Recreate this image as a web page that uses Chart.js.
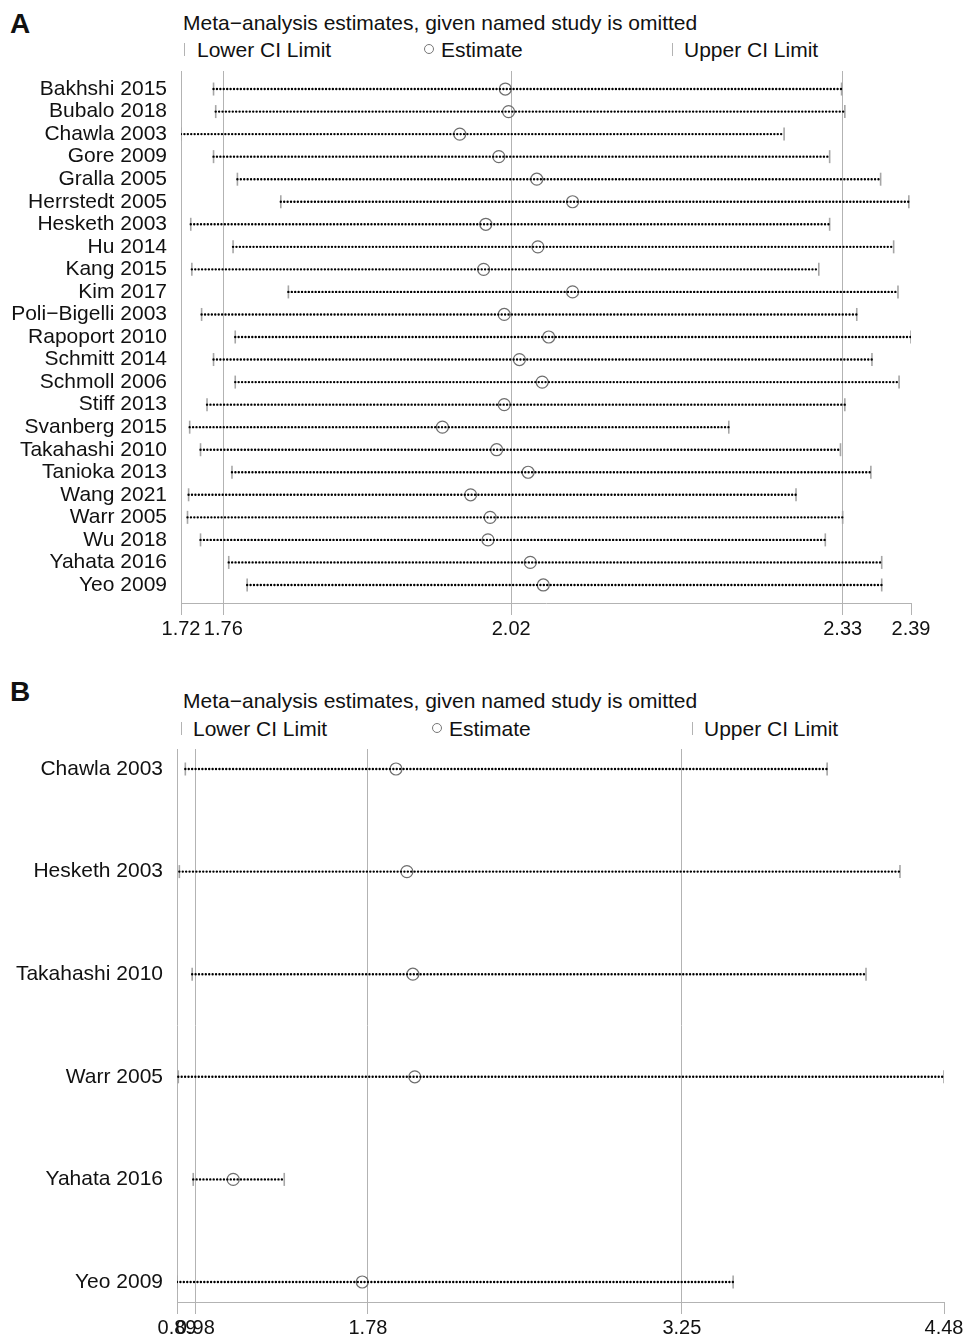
<!DOCTYPE html>
<html>
<head>
<meta charset="utf-8">
<script src="https://cdn.jsdelivr.net/npm/chart.js@4.4.1/dist/chart.umd.min.js"></script>
<style>
  body { margin:0; background:#fff; width:973px; height:1334px; overflow:hidden; position:relative;
         font-family:"Liberation Sans", Arial, Helvetica, sans-serif; color:#111; }
  .abs { position:absolute; white-space:nowrap; line-height:1; }
  .letter { font-weight:bold; font-size:28px; }
  .title, .leg { font-size:21px; }
  .bar { position:absolute; width:1px; height:13px; background:#b3b3b3; }
  .circ { position:absolute; width:8px; height:8px; border:1px solid #777; border-radius:50%; }
  canvas { position:absolute; left:0; }
</style>
</head>
<body>
<!-- panel A header -->
<div class="abs letter" style="left:10px;top:10px">A</div>
<div class="abs title" style="left:183px;top:12px">Meta−analysis estimates, given named study is omitted</div>
<div class="bar" style="left:184px;top:43px"></div>
<div class="abs leg" style="left:197px;top:39px">Lower CI Limit</div>
<div class="circ" style="left:424px;top:44px"></div>
<div class="abs leg" style="left:441px;top:39px">Estimate</div>
<div class="bar" style="left:672px;top:43px"></div>
<div class="abs leg" style="left:684px;top:39px">Upper CI Limit</div>
<canvas id="chartA" width="973" height="650" style="top:0"></canvas>

<!-- panel B header -->
<div class="abs letter" style="left:10px;top:678px">B</div>
<div class="abs title" style="left:183px;top:690px">Meta−analysis estimates, given named study is omitted</div>
<div class="bar" style="left:181px;top:722px"></div>
<div class="abs leg" style="left:193px;top:718px">Lower CI Limit</div>
<div class="circ" style="left:432px;top:723px"></div>
<div class="abs leg" style="left:449px;top:718px">Estimate</div>
<div class="bar" style="left:692px;top:722px"></div>
<div class="abs leg" style="left:704px;top:718px">Upper CI Limit</div>
<canvas id="chartB" width="973" height="674" style="top:660px"></canvas>

<script>
// ---- panel A data ----
const studiesA = ['Bakhshi 2015', 'Bubalo 2018', 'Chawla 2003', 'Gore 2009', 'Gralla 2005',
  'Herrstedt 2005', 'Hesketh 2003', 'Hu 2014', 'Kang 2015', 'Kim 2017', 'Poli−Bigelli 2003',
  'Rapoport 2010', 'Schmitt 2014', 'Schmoll 2006', 'Stiff 2013', 'Svanberg 2015',
  'Takahashi 2010', 'Tanioka 2013', 'Wang 2021', 'Warr 2005', 'Wu 2018', 'Yahata 2016', 'Yeo 2009'];
const lowerA = [1.750, 1.752, 1.720, 1.750, 1.772, 1.812, 1.729, 1.768, 1.730, 1.819, 1.739,
  1.770, 1.750, 1.770, 1.744, 1.728, 1.738, 1.767, 1.727, 1.726, 1.738, 1.764, 1.781];
const estA = [2.019, 2.022, 1.977, 2.013, 2.048, 2.081, 2.001, 2.049, 1.999, 2.081, 2.018,
  2.059, 2.032, 2.053, 2.018, 1.961, 2.011, 2.040, 1.987, 2.005, 2.003, 2.042, 2.054];
const upperA = [2.329, 2.332, 2.276, 2.318, 2.365, 2.391, 2.318, 2.377, 2.308, 2.381, 2.343,
  2.393, 2.357, 2.382, 2.332, 2.225, 2.328, 2.356, 2.287, 2.330, 2.314, 2.366, 2.366];
const ticksA = [1.72, 1.759, 2.0244, 2.330, 2.393];

// ---- panel B data ----
const studiesB = ['Chawla 2003', 'Hesketh 2003', 'Takahashi 2010', 'Warr 2005', 'Yahata 2016', 'Yeo 2009'];
const lowerB = [0.929, 0.901, 0.961, 0.896, 0.966, 0.890];
const estB = [1.915, 1.966, 1.994, 2.003, 1.153, 1.757];
const upperB = [3.933, 4.274, 4.115, 4.480, 1.392, 3.493];
const ticksB = [0.89, 0.9756, 1.7838, 3.2531, 4.48];

const FONT = '"Liberation Sans", Arial, Helvetica, sans-serif';
const GREY = '#b3b3b3';

function forestPlot(id, studies, lower, est, upper, tickVals, lay) {
  const ci = [];
  studies.forEach((s, i) => {
    ci.push({x: lower[i], y: i}, {x: upper[i], y: i}, {x: null, y: null});
  });
  const lo = studies.map((s, i) => ({x: lower[i], y: i}));
  const hi = studies.map((s, i) => ({x: upper[i], y: i}));
  const pt = studies.map((s, i) => ({x: est[i], y: i}));
  const last = tickVals.length - 1;

  return new Chart(document.getElementById(id), {
    type: 'scatter',
    data: {
      datasets: [
        { data: ci, showLine: true, spanGaps: false, pointRadius: 0, borderColor: '#000',
          borderWidth: 2.4, borderDash: [0.01, 3.4], borderCapStyle: 'round' },
        { data: lo, pointStyle: 'line', rotation: 90, pointRadius: 6.5, borderColor: '#a6a6a6', borderWidth: 1.6 },
        { data: hi, pointStyle: 'line', rotation: 90, pointRadius: 6.5, borderColor: '#a6a6a6', borderWidth: 1.6 },
        { data: pt, pointStyle: 'circle', pointRadius: 6, borderColor: '#6e6e6e', borderWidth: 1.2,
          backgroundColor: 'rgba(0,0,0,0)' }
      ]
    },
    options: {
      responsive: false,
      animation: false,
      events: [],
      layout: { padding: { top: lay.top, right: lay.right, left: 0, bottom: 0 } },
      plugins: { legend: { display: false }, tooltip: { enabled: false } },
      scales: {
        x: {
          type: 'linear',
          min: tickVals[0],
          max: tickVals[last],
          afterBuildTicks: sc => { sc.ticks = tickVals.map(v => ({ value: v })); },
          afterFit: sc => { sc.height = lay.xHeight; },
          grid: {
            color: ctx => ctx.index === last ? 'rgba(0,0,0,0)' : GREY,
            tickColor: GREY,
            tickLength: 12,
            lineWidth: 1
          },
          border: { display: true, color: GREY, width: 1 },
          ticks: {
            autoSkip: false, maxRotation: 0, padding: 2, color: '#111',
            font: { family: FONT, size: 20 },
            callback: v => Number(v).toFixed(2)
          }
        },
        y: {
          type: 'linear',
          reverse: true,
          min: -lay.yPad,
          max: studies.length - 1 + lay.yPad,
          afterBuildTicks: sc => { sc.ticks = studies.map((s, i) => ({ value: i })); },
          afterFit: sc => { sc.width = lay.yWidth; },
          grid: { display: false },
          border: { display: false },
          ticks: {
            autoSkip: false, padding: 6, color: '#111',
            font: { family: FONT, size: 21 },
            callback: v => studies[v]
          }
        }
      }
    }
  });
}

forestPlot('chartA', studiesA, lowerA, estA, upperA, ticksA,
  { top: 71, right: 62, xHeight: 47, yWidth: 181, yPad: 0.8 });
forestPlot('chartB', studiesB, lowerB, estB, upperB, ticksB,
  { top: 89, right: 29, xHeight: 32, yWidth: 177, yPad: 0.195 });
</script>
</body>
</html>
